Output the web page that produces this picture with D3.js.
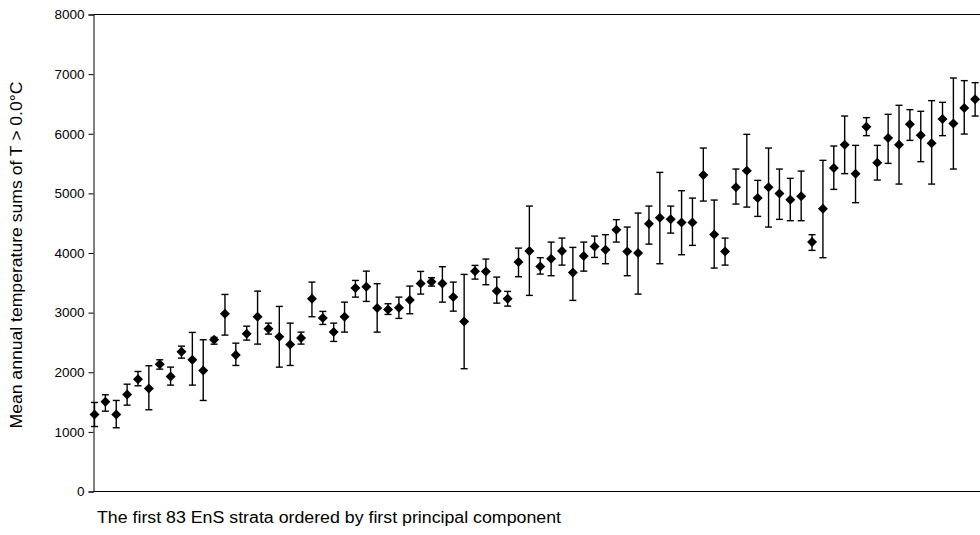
<!DOCTYPE html>
<html>
<head>
<meta charset="utf-8">
<script src="https://cdn.jsdelivr.net/npm/d3@7"></script>
<style>
  html, body { margin: 0; padding: 0; background: #fff; }
  svg { display: block; font-family: Arial, "Liberation Sans", sans-serif; }
</style>
</head>
<body>
<svg id="chart" width="980" height="535"></svg>
<script>
// Mean annual temperature sums (points) with upper / lower error-bar ends
const means = [1292,1505,1292,1627,1884,1728,2136,1929,2343,2209,2030,2545,2981,2290,
  2646,2931,2730,2596,2466,2573,3233,2908,2673,2931,3411,3435,3079,
  3054,3082,3210,3490,3518,3490,3260,2852,3696,3691,3361,3233,3848,
  4032,3775,3904,4032,3674,3948,4111,4055,4391,4027,3998,4491,4592,
  4564,4513,4513,5307,4312,4027,5101,5381,4921,5101,5000,4894,4950,4183,
  4743,5425,5817,5331,6119,5515,5928,5817,6158,5973,5839,6247,6174,6431,6577,
  6650];
const upper = [1493,1622,1527,1800,2013,2109,2209,2086,2438,2668,2545,2584,3305,2488,
  2773,3361,2824,3104,2824,2673,3512,3020,2824,3176,3540,3696,3485,
  3149,3260,3445,3691,3585,3770,3512,3641,3792,3898,3596,3356,4082,
  4787,3921,4183,4250,4094,4183,4284,4307,4559,4435,4670,4787,5352,
  4787,5045,4921,5760,4888,4250,5408,5990,5218,5760,5408,5252,5374,4307,
  5554,5794,6297,5805,6270,5805,6326,6477,6404,6376,6555,6527,6935,6891,6857,
  6900];
const lower = [1090,1347,1069,1448,1773,1371,2052,1784,2237,1784,1527,2471,2623,2114,
  2539,2472,2640,2086,2114,2472,2931,2802,2517,2673,3260,3188,2673,
  2970,2903,2981,3311,3445,3176,3025,2059,3562,3468,3159,3109,3602,
  3289,3646,3619,3797,3205,3696,3926,3820,4183,3619,3311,4149,3820,
  4334,3971,4128,4871,3747,3797,4821,4770,4614,4435,4564,4542,4542,4044,
  3921,5067,5331,4844,5968,5223,5503,5156,5889,5532,5156,5968,5408,5995,6297,
  6400];
const yTicks = [0,1000,2000,3000,4000,5000,6000,7000,8000];
const yTitle = "Mean annual temperature sums of T > 0.0°C";
const xTitle = "The first 83 EnS strata ordered by first principal component";

(function () {
const svg = d3.select("#chart");
const mLeft = 93.5, mTop = 14.5, mBottom = 491.5, mRight = 986;

const x = d3.scaleLinear().domain([0, means.length - 1]).range([94.5, mRight]);
const y = d3.scaleLinear().domain([0, 8000]).range([mBottom, mTop]);

svg.append("defs").append("clipPath").attr("id", "clip")
  .append("rect").attr("x", 0).attr("y", 0).attr("width", 980).attr("height", 535);

// Y axis
const yAxis = d3.axisLeft(y).tickValues(yTicks).tickSize(5).tickPadding(4).tickFormat(d3.format("d"));
const gy = svg.append("g").attr("transform", `translate(${mLeft},0)`).call(yAxis);
gy.select(".domain").attr("stroke", "#000").attr("stroke-width", 1);
gy.selectAll(".tick line").attr("stroke", "#000");
gy.selectAll(".tick text").attr("fill", "#000").style("font-size", "13.5px")
  .style("font-family", "Arial, 'Liberation Sans', sans-serif");

// X axis (no ticks)
const xAxis = d3.axisBottom(x).tickValues([]).tickSizeOuter(0);
const gx = svg.append("g").attr("transform", `translate(0,${mBottom})`).call(xAxis);
gx.select(".domain").attr("stroke", "#000").attr("d", `M${mLeft},0H${mRight}`);

// Top border
svg.append("line").attr("x1", mLeft).attr("x2", mRight).attr("y1", mTop).attr("y2", mTop)
  .attr("stroke", "#000").attr("stroke-width", 1);

const data = means.map((m, i) => ({ i, m, hi: upper[i], lo: lower[i] }));
const g = svg.append("g").attr("clip-path", "url(#clip)");
const cap = 3.5;

const eb = g.selectAll(".eb").data(data).join("g").attr("class", "eb")
  .attr("stroke", "#000").attr("stroke-width", 1.4).attr("fill", "none");
eb.append("line").attr("x1", d => x(d.i)).attr("x2", d => x(d.i))
  .attr("y1", d => y(d.hi)).attr("y2", d => y(d.lo));
eb.append("line").attr("x1", d => x(d.i) - cap).attr("x2", d => x(d.i) + cap)
  .attr("y1", d => y(d.hi)).attr("y2", d => y(d.hi));
eb.append("line").attr("x1", d => x(d.i) - cap).attr("x2", d => x(d.i) + cap)
  .attr("y1", d => y(d.lo)).attr("y2", d => y(d.lo));

const r = 5;
g.selectAll(".pt").data(data).join("path").attr("class", "pt")
  .attr("d", d => {
    const cx = x(d.i), cy = y(d.m);
    const p = d3.path();
    p.moveTo(cx, cy - r); p.lineTo(cx + r, cy); p.lineTo(cx, cy + r); p.lineTo(cx - r, cy); p.closePath();
    return p.toString();
  })
  .attr("fill", "#000");

// Titles
svg.append("text").attr("transform", "translate(22,255) rotate(-90)")
  .attr("text-anchor", "middle").style("font-size", "16px").attr("fill", "#000")
  .attr("textLength", 347).attr("lengthAdjust", "spacingAndGlyphs").text(yTitle);
svg.append("text").attr("x", 97).attr("y", 523)
  .style("font-size", "16px").attr("fill", "#000")
  .attr("textLength", 464).attr("lengthAdjust", "spacingAndGlyphs").text(xTitle);
})();
</script>
</body>
</html>
